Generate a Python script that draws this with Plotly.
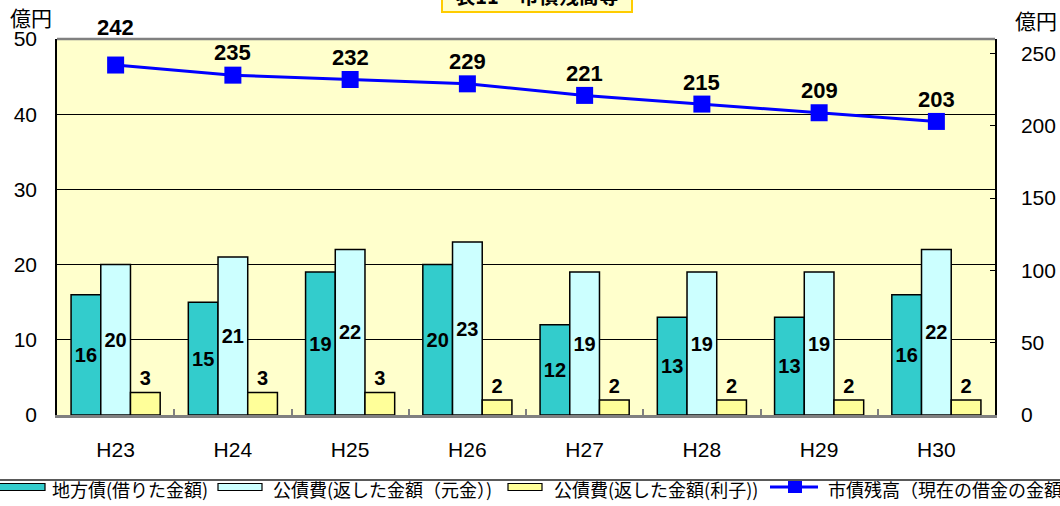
import plotly.graph_objects as go

# 年度
years = ["H23", "H24", "H25", "H26", "H27", "H28", "H29", "H30"]
# 地方債(借りた金額) 億円
borrowed = [16, 15, 19, 20, 12, 13, 13, 16]
# 公債費(返した金額(元金)) 億円
principal = [20, 21, 22, 23, 19, 19, 19, 22]
# 公債費(返した金額(利子)) 億円
interest = [3, 3, 3, 2, 2, 2, 2, 2]
# 市債残高(現在の借金の金額) 億円
balance = [242, 235, 232, 229, 221, 215, 209, 203]

series_names = [
    "地方債(借りた金額)",
    "公債費(返した金額（元金）)",
    "公債費(返した金額(利子))",
    "市債残高（現在の借金の金額)",
]
title_text = "表11　市債残高等"
unit_text = "億円"

# label offsets above the balance markers (px)
balance_label_shift = [38, 23, 22, 22, 22, 22, 22, 22]

W, H = 1060, 506
L, R, T, B = 57, 995, 39, 415
PW, PH = R - L, B - T


def px2x(px):
    return (px - L) / PW


def py2y(py):
    return (B - py) / PH


TEAL = "#33CCCC"
CYAN = "#CCFFFF"
YELLOW = "#FFFF99"
BLUE = "#0000FF"
NUM_FONT = "Liberation Sans Narrow, Arial Narrow, Liberation Sans, Arial"
JP_FONT = "Noto Sans CJK JP"
LBL_FONT = "Liberation Sans, Arial"

fig = go.Figure()

bar_line = dict(color="black", width=1.5)
fig.add_trace(go.Bar(
    x=years, y=borrowed, name=series_names[0],
    marker=dict(color=TEAL, line=bar_line),
    text=[str(v) for v in borrowed], textposition="inside",
    insidetextanchor="middle", textangle=0,
    insidetextfont=dict(family=LBL_FONT, size=20, color="black", weight="bold"),
    showlegend=False, yaxis="y",
))
fig.add_trace(go.Bar(
    x=years, y=principal, name=series_names[1],
    marker=dict(color=CYAN, line=bar_line),
    text=[str(v) for v in principal], textposition="inside",
    insidetextanchor="middle", textangle=0,
    insidetextfont=dict(family=LBL_FONT, size=20, color="black", weight="bold"),
    showlegend=False, yaxis="y",
))
fig.add_trace(go.Bar(
    x=years, y=interest, name=series_names[2],
    marker=dict(color=YELLOW, line=bar_line),
    text=[str(v) for v in interest], textposition="outside", textangle=0,
    outsidetextfont=dict(family=LBL_FONT, size=20, color="black", weight="bold"),
    cliponaxis=False, showlegend=False, yaxis="y",
))
fig.add_trace(go.Scatter(
    x=years, y=balance, name=series_names[3], mode="lines+markers",
    line=dict(color=BLUE, width=3),
    marker=dict(symbol="square", size=17, color=BLUE),
    showlegend=False, yaxis="y2", cliponaxis=False,
))

annotations = []
# balance value labels
for yr, v, s in zip(years, balance, balance_label_shift):
    annotations.append(dict(
        x=yr, y=v, xref="x", yref="y2", text=str(v), showarrow=False,
        xanchor="center", yanchor="middle",
        yshift=s, font=dict(family=LBL_FONT, size=22, color="black", weight="bold"),
    ))

# unit labels
annotations.append(dict(x=px2x(31), y=py2y(17), xref="paper", yref="paper",
                        xanchor="center", yanchor="middle",
                        text=unit_text, showarrow=False,
                        font=dict(family=JP_FONT, size=21, color="black")))
annotations.append(dict(x=px2x(1036), y=py2y(20), xref="paper", yref="paper",
                        xanchor="center", yanchor="middle",
                        text=unit_text, showarrow=False,
                        font=dict(family=JP_FONT, size=21, color="black")))

# title box
annotations.append(dict(x=px2x(536.5), y=py2y(13), xref="paper", yref="paper",
                        xanchor="center", yanchor="bottom",
                        text="<b>" + title_text + "</b>", showarrow=False,
                        width=186, height=30, valign="middle",
                        bgcolor="#FFFFCC", bordercolor="#FFCC00", borderwidth=2,
                        font=dict(family=JP_FONT, size=20, color="black")))

shapes = []
# top border of the plot area
shapes.append(dict(type="line", xref="paper", yref="paper", x0=0, x1=1, y0=1, y1=1,
                   line=dict(color="#808080", width=2.5)))
# separator above the legend
shapes.append(dict(type="line", xref="paper", yref="paper",
                   x0=px2x(0), x1=px2x(W), y0=py2y(480), y1=py2y(480),
                   line=dict(color="#222222", width=1.5)))

# legend
leg_y = 487
leg_items = [
    (series_names[0], TEAL, -6, 45, 50),
    (series_names[1], CYAN, 218, 262, 271),
    (series_names[2], YELLOW, 508, 542, 552),
]
for name, col, x0, x1, tx in leg_items:
    shapes.append(dict(type="rect", xref="paper", yref="paper",
                       x0=px2x(x0), x1=px2x(x1), y0=py2y(leg_y - 3.5), y1=py2y(leg_y + 3.5),
                       fillcolor=col, line=dict(color="black", width=1.2)))
    annotations.append(dict(x=px2x(tx), y=py2y(489), xref="paper", yref="paper",
                            xanchor="left", yanchor="middle", text=name, showarrow=False,
                            font=dict(family=JP_FONT, size=18, color="black")))
shapes.append(dict(type="line", xref="paper", yref="paper",
                   x0=px2x(770), x1=px2x(818), y0=py2y(leg_y), y1=py2y(leg_y),
                   line=dict(color=BLUE, width=3)))
shapes.append(dict(type="rect", xref="paper", yref="paper",
                   x0=px2x(788), x1=px2x(802), y0=py2y(leg_y - 6), y1=py2y(leg_y + 6),
                   fillcolor=BLUE, line=dict(color=BLUE, width=0)))
annotations.append(dict(x=px2x(826), y=py2y(489), xref="paper", yref="paper",
                        xanchor="left", yanchor="middle", text=series_names[3], showarrow=False,
                        font=dict(family=JP_FONT, size=18, color="black")))

fig.update_layout(
    width=W, height=H,
    margin=dict(l=L, r=W - R, t=T, b=H - B, pad=0, autoexpand=False),
    paper_bgcolor="white", plot_bgcolor="#FFFFCC",
    barmode="group", bargap=0.24, bargroupgap=0,
    showlegend=False,
    xaxis=dict(
        type="category", showline=True, linecolor="#808080", linewidth=2.5,
        ticks="inside", ticklen=6, tickcolor="#808080", tickwidth=1.5,
        tickson="boundaries", showgrid=False, zeroline=False, automargin=False,
        tickfont=dict(family=NUM_FONT, size=21, color="black"),
        ticklabelstandoff=14,
    ),
    yaxis=dict(
        range=[0, 50], dtick=10, showgrid=True, gridcolor="black", gridwidth=1.2,
        showline=True, linecolor="black", linewidth=1.5, zeroline=False,
        automargin=False,
        ticks="", tickfont=dict(family=NUM_FONT, size=21, color="black"),
        ticklabelstandoff=14,
    ),
    yaxis2=dict(
        range=[0, 260], tickvals=[0, 50, 100, 150, 200, 250], overlaying="y", side="right",
        showgrid=False, showline=True, linecolor="black", linewidth=1.5, zeroline=False,
        automargin=False,
        ticks="inside", ticklen=5, tickcolor="black", tickwidth=1.2,
        tickfont=dict(family=NUM_FONT, size=21, color="black"),
        ticklabelstandoff=20,
    ),
    annotations=annotations,
    shapes=shapes,
    uniformtext=dict(mode=False),
)

fig.write_html("out.html")
